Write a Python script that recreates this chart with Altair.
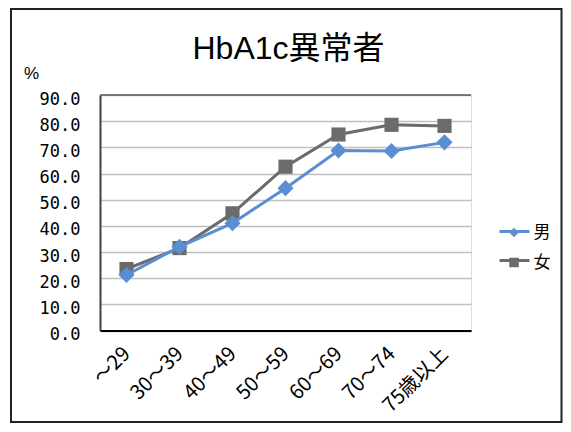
import altair as alt
import pandas as pd

# ---- data ----
categories = ["～29", "30～39", "40～49", "50～59", "60～69", "70～74", "75歳以上"]
male = [21.2, 32.0, 41.0, 54.4, 68.8, 68.6, 71.9]
female = [23.5, 31.5, 44.8, 62.6, 74.9, 78.6, 78.2]
series = ["男", "女"]
colors = ["#5A8ED3", "#6B6B6B"]
shapes = ["diamond", "square"]
y_ticks = [0, 10, 20, 30, 40, 50, 60, 70, 80, 90]

rows = []
for c, f in zip(categories, female):
    rows.append({"age": c, "sex": "女", "value": f})
for c, m in zip(categories, male):
    rows.append({"age": c, "sex": "男", "value": m})
df = pd.DataFrame(rows)

W, H = 371, 235.5
NUMFONT = "DejaVu Sans Mono, Noto Sans CJK JP"
CJK = "Noto Sans CJK JP"
TITLEFONT = "Liberation Sans, Noto Sans CJK JP"

x_enc = alt.X(
    "age:O", sort=categories, title=None,
    axis=alt.Axis(labelAngle=-45, labelFontSize=20, labelFont=CJK, labelColor="#000",
                  ticks=False, labelPadding=20, domainColor="#000", domainWidth=2,
                  grid=False, labelAlign="right", labelBaseline="middle"),
)
y_scale = alt.Scale(domain=[0, 90], nice=False)
y_axis = alt.Axis(values=y_ticks, format=".1f", labelFontSize=17, labelFont=NUMFONT,
                  labelColor="#000", ticks=False, labelPadding=20, labelOffset=4,
                  labelOverlap=False,
                  domainColor="#404040", domainWidth=2, gridColor="#BFBFBF", gridWidth=1.5,
                  title="%", titleAngle=0, titleFontSize=17, titleFont=TITLEFONT,
                  titleFontWeight="normal", titleColor="#000", titleX=-69, titleY=-22,
                  titleAlign="center", titleBaseline="middle")
y_enc = alt.Y("value:Q", scale=y_scale, axis=y_axis)

# line legend and marker legend use different scale domains so that Vega-Lite
# keeps them as two legends, which are then stacked on the same spot
stroke_scale = alt.Scale(domain=series, range=colors)
fill_scale = alt.Scale(domain=series + [" "], range=colors + ["#ffffff"])
shape_scale = alt.Scale(domain=series + [" "], range=shapes + ["circle"])

line_legend = alt.Legend(title=None, orient="none", legendX=398, legendY=120,
                         symbolType="stroke", symbolSize=900, symbolStrokeWidth=3,
                         labelFontSize=1, labelFont=CJK, labelOpacity=0,
                         labelOffset=0, rowPadding=6, padding=0)
pt_legend = alt.Legend(title=None, orient="none", legendX=405.5, legendY=129,
                       values=series,
                       symbolSize=90, labelFontSize=17, labelFont=CJK, labelColor="#000",
                       labelOffset=11, rowPadding=12, padding=0)

base = alt.Chart(df)


def series_layers(name, size):
    sub = base.transform_filter(alt.datum.sex == name)
    ln = sub.mark_line(strokeWidth=3).encode(
        x=x_enc, y=y_enc,
        stroke=alt.Stroke("sex:N", scale=stroke_scale, legend=line_legend),
    )
    pt = sub.mark_point(filled=True, opacity=1, size=size).encode(
        x=x_enc, y=y_enc,
        fill=alt.Fill("sex:N", scale=fill_scale, legend=pt_legend),
        shape=alt.Shape("sex:N", scale=shape_scale, legend=pt_legend),
    )
    return [ln, pt]


top_rule = alt.Chart(alt.Data(values=[{}])).mark_rule(color="#595959", strokeWidth=1.5).encode(
    y=alt.YDatum(90, scale=y_scale, axis=y_axis)
)

border = alt.Chart(alt.Data(values=[{}])).mark_rect(
    fillOpacity=0, stroke="#222", strokeWidth=2
).encode(
    x=alt.value(-89), x2=alt.value(461.5), y=alt.value(-86), y2=alt.value(327)
)

layers = series_layers("女", 200) + series_layers("男", 260) + [top_rule, border]

chart = alt.layer(*layers).properties(
    width=W, height=H,
    title=alt.TitleParams("HbA1c異常者", fontSize=32, font=TITLEFONT, fontWeight="normal",
                          color="#000", anchor="middle", dx=3, offset=0, dy=58),
    autosize=alt.AutoSizeParams(type="none"),
    padding={"left": 92, "top": 87, "right": 92, "bottom": 93},
).configure_view(stroke=None).configure(background="white")

chart.save("out.html", embed_options={"renderer": "svg", "actions": False})
